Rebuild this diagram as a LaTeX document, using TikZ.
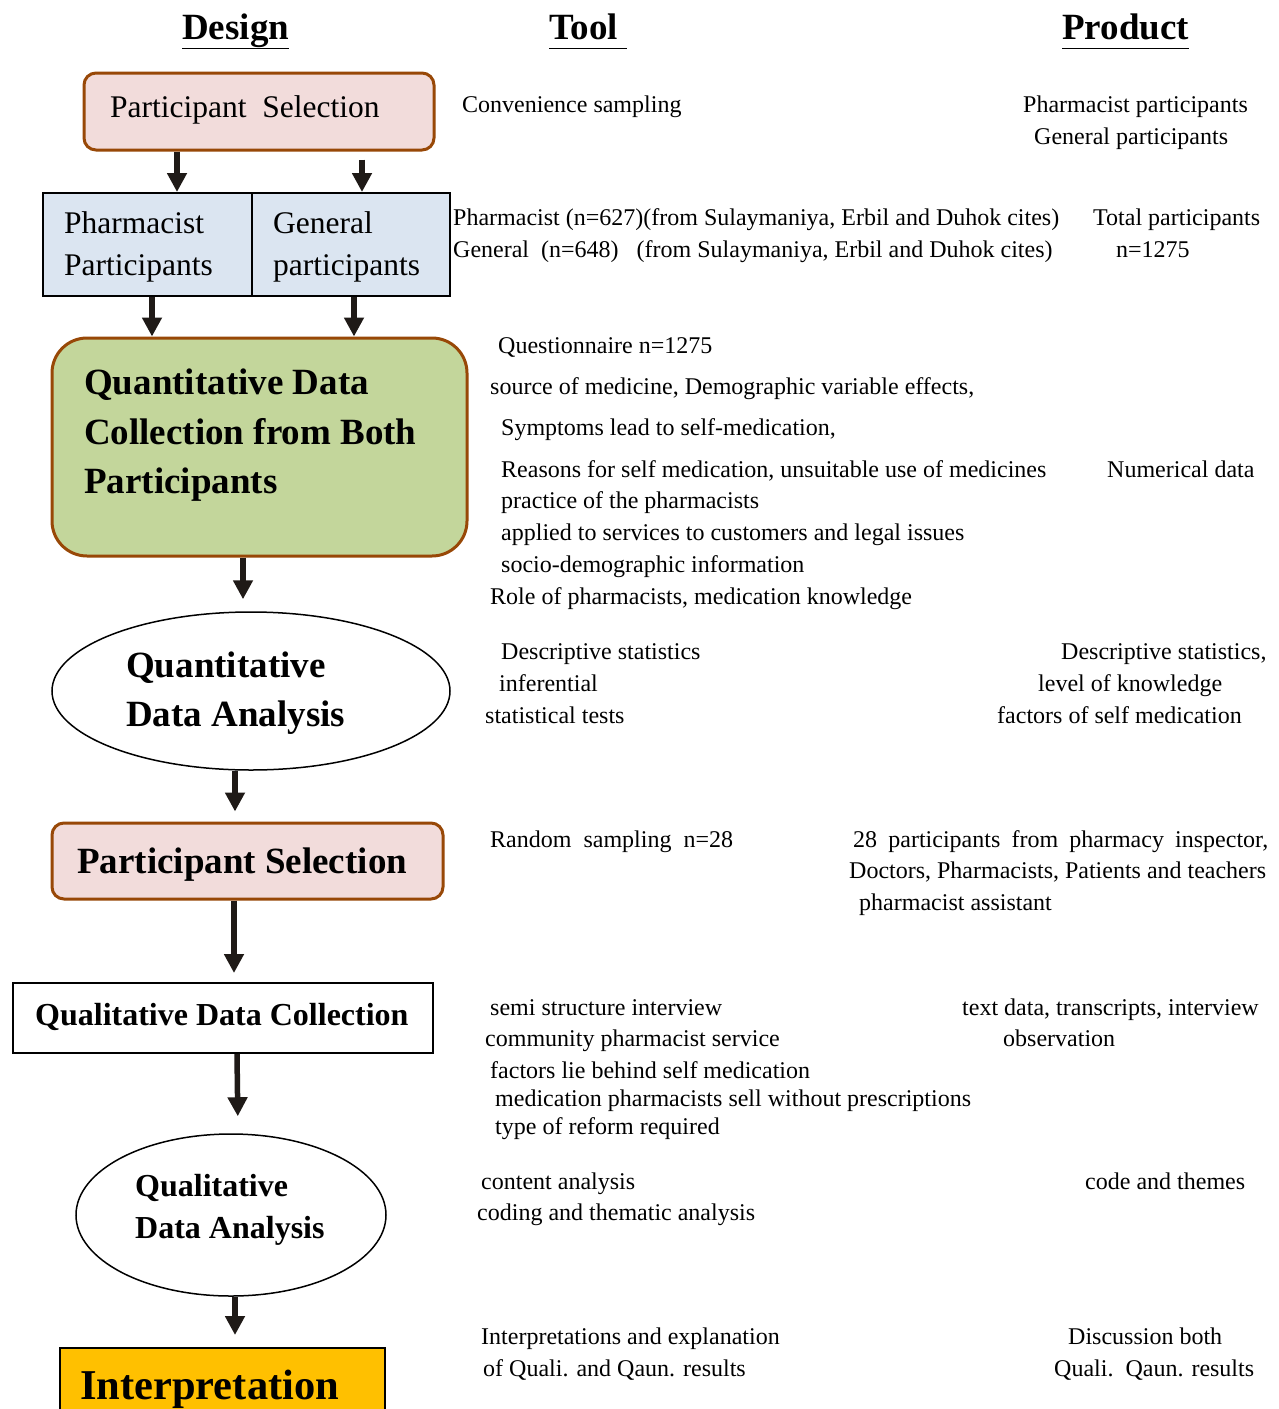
\documentclass[tikz,border=0pt]{standalone}
\usepackage{fontspec}
\setmainfont{Liberation Serif}
\usetikzlibrary{arrows.meta,shapes.geometric}
\definecolor{brownb}{RGB}{152,72,7}
\definecolor{pinkf}{RGB}{242,220,219}
\definecolor{bluef}{RGB}{219,229,241}
\definecolor{greenf}{RGB}{195,214,155}
\definecolor{yellowf}{RGB}{255,192,0}
\definecolor{arrowc}{RGB}{31,26,23}
\begin{document}
\begin{tikzpicture}[x=1pt,y=-1pt,
  hdr/.style={anchor=base west,inner sep=0,font=\fontsize{37}{40}\selectfont\bfseries},
  tooltxt/.style={anchor=base west,inner sep=0,font=\fontsize{24}{28}\selectfont},
  regtxt/.style={anchor=base west,inner sep=0,font=\fontsize{31.5}{36}\selectfont},
  bigbold/.style={anchor=base west,inner sep=0,font=\fontsize{37}{42}\selectfont\bfseries},
  midbold/.style={anchor=base west,inner sep=0,font=\fontsize{32}{36}\selectfont\bfseries},
  hugebold/.style={anchor=base west,inner sep=0,font=\fontsize{42.5}{46}\selectfont\bfseries},
  pinkbox/.style={draw=brownb,fill=pinkf,line width=3pt,rounded corners=12pt,inner sep=0},
  bluebox/.style={draw=black,fill=bluef,line width=2pt,inner sep=0},
  plainbox/.style={draw=black,fill=white,line width=2pt,inner sep=0},
  oval/.style={draw=black,fill=white,ellipse,line width=1.5pt,inner sep=0},
  arr/.style={draw=arrowc,line width=5.5pt,-{Triangle[width=19pt,length=19pt]}}
]
\clip (0,0) rectangle (1278,1409);
\fill[white] (0,0) rectangle (1278,1409);

% headers
\node[hdr] (hdesign) at (182,39) {\underline{Design}};
\node[hdr] (htool) at (549,39) {\underline{Tool\vphantom{g}\ }};
\node[hdr] (hproduct) at (1062,39) {\underline{Product\vphantom{g}}};

% shapes
\node[pinkbox,minimum width=350,minimum height=77] (ps1) at (259,111.5) {};
\node[bluebox,minimum width=209,minimum height=103] (pharm) at (147.5,244.5) {};
\node[bluebox,minimum width=198,minimum height=103] (gen) at (351,244.5) {};
\node[draw=brownb,fill=greenf,line width=3pt,rounded corners=35pt,inner sep=0,minimum width=415,minimum height=218] (qdc) at (259.5,447) {};
\node[oval,minimum width=398,minimum height=158] (qda) at (251,691) {};
\node[pinkbox,minimum width=391,minimum height=76] (ps2) at (247.5,861) {};
\node[plainbox,minimum width=420,minimum height=70] (qdc2) at (223,1018) {};
\node[oval,minimum width=310,minimum height=162] (qda2) at (231,1215) {};
\node[draw=black,fill=yellowf,line width=2pt,inner sep=0,minimum width=325,minimum height=84] (interp) at (222.5,1390) {};

% shape texts
\node[regtxt] (ps1t) at (110,117) {Participant\ \ Selection};
\node[regtxt] (pharmt1) at (64,233) {Pharmacist};
\node[regtxt] (pharmt2) at (64,275) {Participants};
\node[regtxt] (gent1) at (273,233) {General};
\node[regtxt] (gent2) at (273,275) {participants};
\node[bigbold] (qdct1) at (84,394) {Quantitative Data};
\node[bigbold] (qdct2) at (84,444) {Collection from Both};
\node[bigbold] (qdct3) at (84,493) {Participants};
\node[bigbold] (qdat1) at (126,677) {Quantitative};
\node[bigbold] (qdat2) at (126,726) {Data Analysis};
\node[bigbold] (ps2t) at (77,873) {Participant Selection};
\node[midbold] (qdc2t) at (35,1025) {Qualitative Data Collection};
\node[midbold] (qda2t1) at (135,1196) {Qualitative};
\node[midbold] (qda2t2) at (135,1238) {Data Analysis};
\node[hugebold] (interpt) at (80,1399) {Interpretation};

% arrows
\draw[arr] ([xshift=-82pt]ps1.south) -- ([xshift=29.5pt]pharm.north);
\draw[arr,shorten <=8pt] ([xshift=103pt]ps1.south) -- ([xshift=11pt]gen.north);
\draw[arr] ([xshift=4.5pt]pharm.south) -- ([xshift=-107.5pt]qdc.north);
\draw[arr] ([xshift=3pt]gen.south) -- ([xshift=94.5pt]qdc.north);
\draw[arr,shorten >=12pt] ([xshift=-16.5pt]qdc.south) -- ([xshift=-8pt]qda.north);
\draw[arr,shorten >=10pt] ([xshift=-16pt]qda.south) -- ([xshift=-12.5pt]ps2.north);
\draw[arr,shorten >=9pt] ([xshift=-13.5pt]ps2.south) -- ([xshift=11pt]qdc2.north);
\draw[arr,shorten >=17pt] ([xshift=14pt]qdc2.south) -- ([xshift=7pt]qda2.north);
\draw[arr,shorten >=12pt] ([xshift=4pt]qda2.south) -- ([xshift=12.5pt]interp.north);

% tool column
\node[tooltxt] (t1) at (462,112) {Convenience sampling};
\node[tooltxt] (t2) at (453,225) {Pharmacist (n=627)(from Sulaymaniya, Erbil and Duhok cites)};
\node[tooltxt] (t3) at (453,257) {General\ \ (n=648)\ \ \ (from Sulaymaniya, Erbil and Duhok cites)};
\node[tooltxt] (t4) at (498,353) {Questionnaire n=1275};
\node[tooltxt] (t5) at (490,394) {source of medicine, Demographic variable effects,};
\node[tooltxt] (t6) at (501,435) {Symptoms lead to self-medication,};
\node[tooltxt] (t7) at (501,477) {Reasons for self medication, unsuitable use of medicines};
\node[tooltxt] (t8) at (501,508) {practice of the pharmacists};
\node[tooltxt] (t9) at (501,540) {applied to services to customers and legal issues};
\node[tooltxt] (t10) at (501,572) {socio-demographic information};
\node[tooltxt] (t11) at (490,604) {Role of pharmacists, medication knowledge};
\node[tooltxt] (t12) at (501,659) {Descriptive statistics};
\node[tooltxt] (t13) at (499,691) {inferential};
\node[tooltxt] (t14) at (485,723) {statistical tests};
\node[tooltxt] (t15) at (490,847) {Random\ \ sampling\ \ n=28};
\node[tooltxt] (t16) at (490,1015) {semi structure interview};
\node[tooltxt] (t17) at (485,1046) {community pharmacist service};
\node[tooltxt] (t18) at (490,1078) {factors lie behind self medication};
\node[tooltxt] (t19) at (495,1106) {medication pharmacists sell without prescriptions};
\node[tooltxt] (t20) at (495,1134) {type of reform required};
\node[tooltxt] (t21) at (481,1189) {content analysis};
\node[tooltxt] (t22) at (477,1220) {coding and thematic analysis};
\node[tooltxt] (t23) at (481,1344) {Interpretations and explanation};
\node[tooltxt] (t24) at (483,1376) {of Quali. and Qaun. results};

% product column
\node[tooltxt] (p1) at (1023,112) {Pharmacist participants};
\node[tooltxt] (p2) at (1034,144) {General participants};
\node[tooltxt] (p3) at (1093,225) {Total participants};
\node[tooltxt] (p4) at (1116,257) {n=1275};
\node[tooltxt] (p5) at (1107,477) {Numerical data};
\node[tooltxt] (p6) at (1061,659) {Descriptive statistics,};
\node[tooltxt] (p7) at (1038,691) {level of knowledge};
\node[tooltxt] (p8) at (997,723) {factors of self medication};
\node[tooltxt] (p9) at (853,847) {\makebox[415pt][s]{28 participants from pharmacy inspector,}};
\node[tooltxt] (p10) at (849,878) {\makebox[417pt][s]{Doctors, Pharmacists, Patients and teachers}};
\node[tooltxt] (p11) at (859,910) {pharmacist assistant};
\node[tooltxt] (p12) at (962,1015) {text data, transcripts, interview};
\node[tooltxt] (p13) at (1003,1046) {observation};
\node[tooltxt] (p14) at (1085,1189) {code and themes};
\node[tooltxt] (p15) at (1068,1344) {Discussion both};
\node[tooltxt] (p16) at (1054,1376) {Quali.\ \ Qaun. results};
\end{tikzpicture}
\end{document}
